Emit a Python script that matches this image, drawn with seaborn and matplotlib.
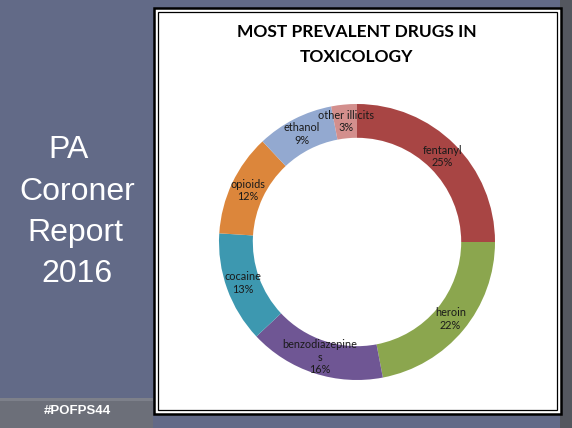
import matplotlib
matplotlib.use("Agg")
import matplotlib.pyplot as plt
import seaborn as sns
from matplotlib.patches import Rectangle

# data
drugs = ["fentanyl", "heroin", "benzodiazepine\ns", "cocaine", "opioids", "ethanol", "other illicits"]
shares = [25, 22, 16, 13, 12, 9, 3]
colors = ["#a84544", "#8ba64e", "#6f5694", "#3d98b0", "#dc863b", "#93a9d0", "#d38f8d"]
title_lines = ["MOST PREVALENT DRUGS IN", "TOXICOLOGY"]
side_lines = ["PA", "Coroner", "Report", "2016"]
tag = "#POFPS44"

sns.set_theme(style="white")
plt.rcParams["font.family"] = ["Lato", "DejaVu Sans"]

W, H = 572, 428
fig = plt.figure(figsize=(W / 100, H / 100), dpi=100)
fig.patch.set_facecolor("#626a87")


def px(x0, y0, x1, y1):
    # pixel box (origin top-left) -> figure fraction [l, b, w, h]
    return [x0 / W, 1 - y1 / H, (x1 - x0) / W, (y1 - y0) / H]


def rect(x0, y0, x1, y1, **kw):
    l, b, w, h = px(x0, y0, x1, y1)
    fig.add_artist(Rectangle((l, b), w, h, transform=fig.transFigure, zorder=-1, **kw))


# background pieces
rect(560, 0, 572, 428, facecolor="#54575f", edgecolor="none")
rect(0, 398, 153, 428, facecolor="#6c6f79", edgecolor="none")
rect(0, 398, 153, 401, facecolor="#7d808a", edgecolor="none")

# white chart box with double border
rect(154, 8, 561, 414, facecolor="white", edgecolor="black", linewidth=1.8)
rect(158, 12, 557, 410, facecolor="none", edgecolor="black", linewidth=0.9)

# left panel text
side_pos = [(69, 150), (77, 192), (75, 233), (77, 274)]
for txt, (x, y) in zip(side_lines, side_pos):
    fig.text(x / W, 1 - y / H, txt, color="white", fontsize=23,
             family=["Liberation Sans", "DejaVu Sans"], ha="center", va="center")
fig.text(77 / W, 1 - 411 / H, tag, color="white", fontsize=9.5, fontweight="bold",
         family=["Liberation Sans", "DejaVu Sans"], ha="center", va="center")

# title
for txt, y in zip(title_lines, [32, 57]):
    fig.text(357 / W, 1 - y / H, txt, fontsize=12.5, fontweight="bold",
             color="black", ha="center", va="center")

# donut
ax = fig.add_axes(px(357 - 138, 242 - 138, 357 + 138, 242 + 138))
labels = [f"{d}\n{s}%" for d, s in zip(drugs, shares)]
wedges, texts = ax.pie(shares, colors=colors, startangle=90, counterclock=False,
                       radius=1, labels=labels, labeldistance=0.877,
                       wedgeprops=dict(width=0.245, linewidth=0),
                       textprops=dict(fontsize=7.8, color="#1a1a1a"))
for t in texts:
    t.set_ha("center")
    t.set_va("center")
    t.set_linespacing(1.2)
ax.set_xlim(-1, 1)
ax.set_ylim(-1, 1)
ax.axis("off")

fig.savefig("out.png", dpi=100)
